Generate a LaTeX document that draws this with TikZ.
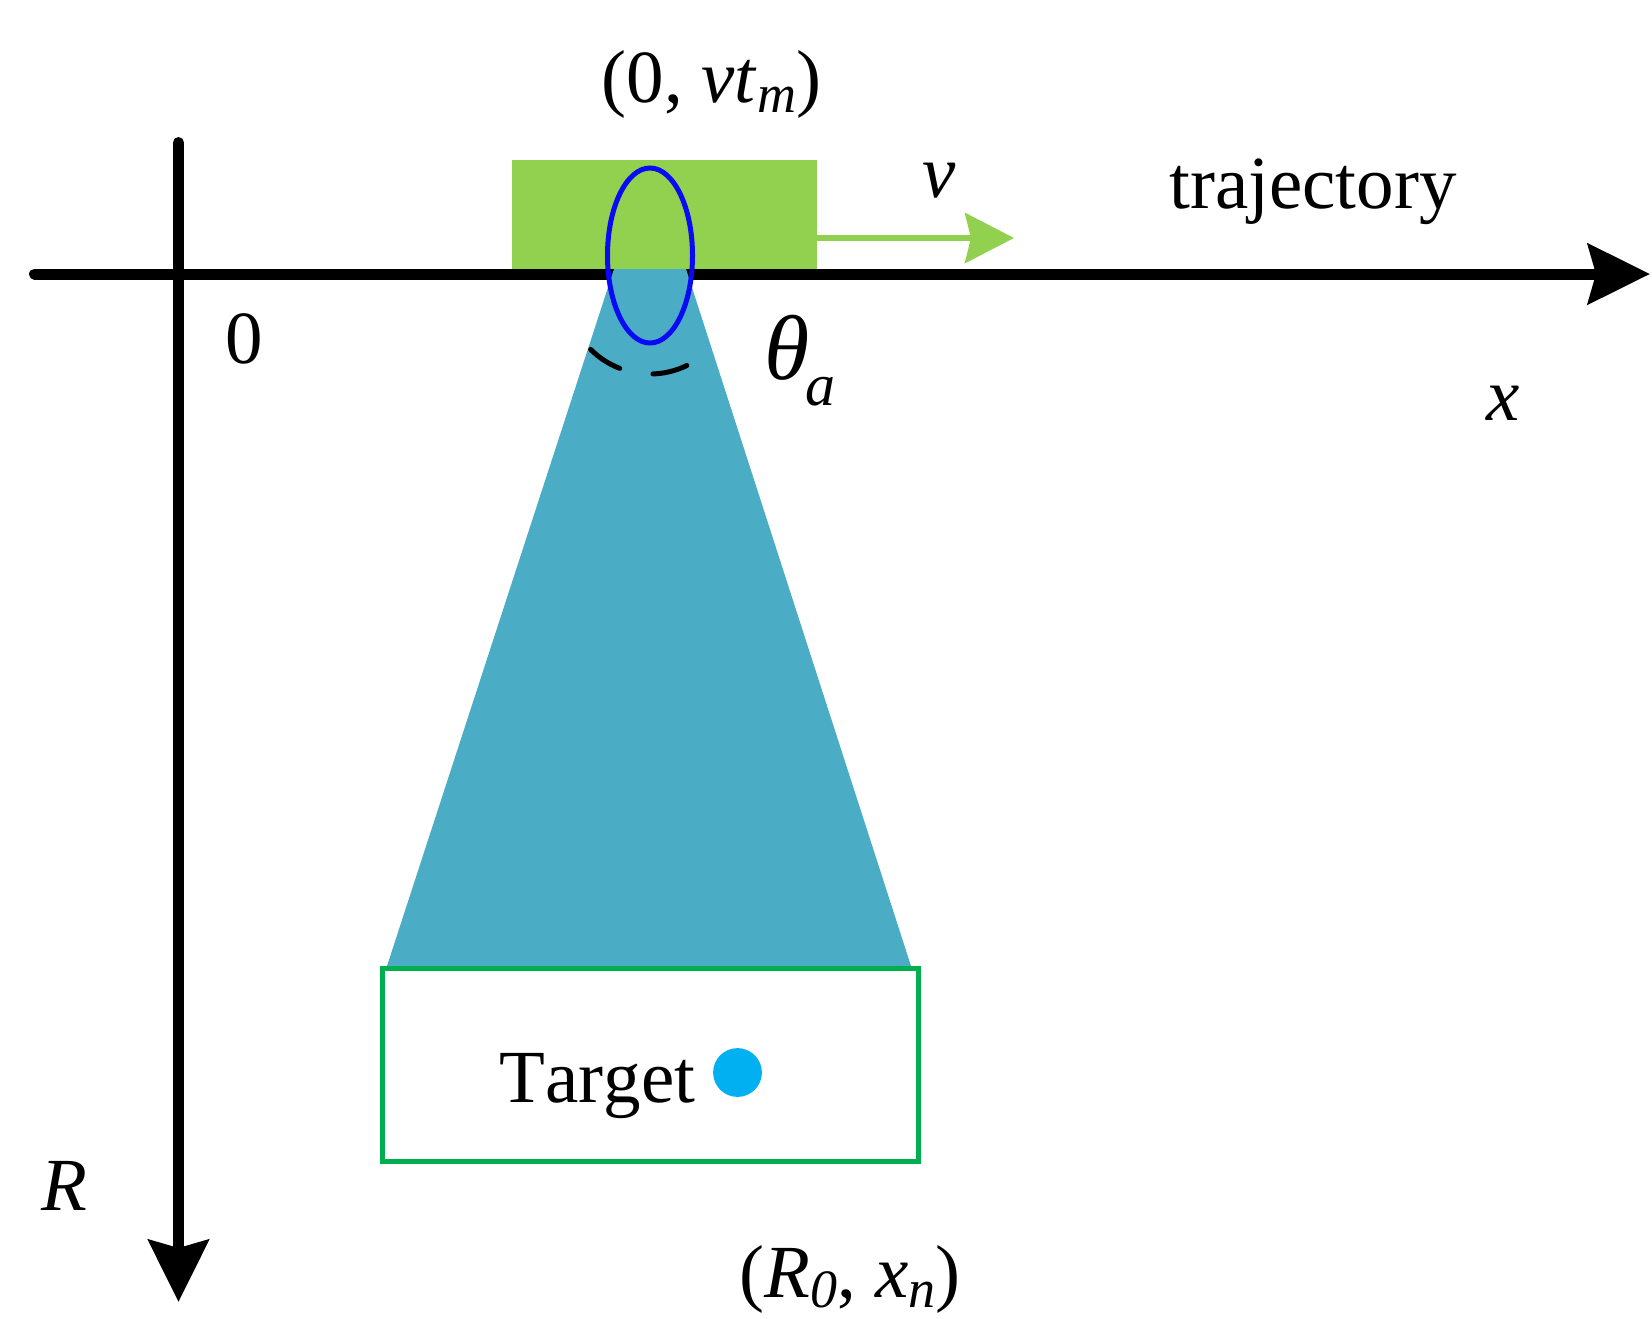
\documentclass[tikz,border=0pt]{standalone}
\usepackage{fontspec}
\setmainfont[Kerning=Off]{Liberation Serif}
\usetikzlibrary{arrows.meta}
\definecolor{conecol}{HTML}{4BACC6}
\definecolor{carcol}{HTML}{92D050}
\definecolor{boxcol}{HTML}{00B050}
\definecolor{dotcol}{HTML}{00B0F0}
\definecolor{ellcol}{HTML}{0A0AF5}
\newcommand{\mysub}[1]{\raisebox{-5pt}{\fontsize{27}{27}\selectfont\itshape #1}}
\begin{document}
\begin{tikzpicture}[x=0.5pt,y=-0.5pt,
  lbl/.style={inner sep=0pt, font=\fontsize{37.5}{40}\selectfont},
  axisline/.style={line width=5.5pt, line cap=round},
  bigtip/.style={-{Stealth[length=31pt,width=30pt,inset=4pt]}},
  velarrow/.style={line width=2.85pt, carcol, -{Stealth[length=24.5pt,width=25pt,inset=3pt]}}]
\useasboundingbox (0,0) rectangle (1652,1318);
\fill[white] (0,0) rectangle (1652,1318);

% axes
\coordinate (xstart) at (34.5,274);
\coordinate (xend) at (1650,274);
\coordinate (rstart) at (178.5,142.5);
\coordinate (rend) at (178.5,1302);
\draw[axisline,bigtip] (xstart) -- (xend);
\draw[axisline,bigtip] (rstart) -- (rend);

% platform
\fill[carcol] (512,160) rectangle (817,269);
\coordinate (vstart) at (817,238);
\coordinate (vend) at (1014,238);
\draw[velarrow] (vstart) -- (vend);

% beam
\fill[conecol] (614,269) -- (686,269) -- (911,966) -- (387,966) -- cycle;

% target area
\node[draw=boxcol, line width=2.25pt, fill=white, minimum width=268pt, minimum height=96.5pt, inner sep=0pt, anchor=north west] (tbox) at (380,966) {};
\fill[dotcol] (737.5,1072.5) circle[radius=12.2pt];

% antenna ellipse
\draw[ellcol, line width=2.5pt] (650,255.5) ellipse[x radius=21.25pt, y radius=43.75pt];

% beam angle arcs
\draw[line width=2.5pt, line cap=round] (650,290) ++(-135:42pt) arc[start angle=-135, end angle=-111, radius=42pt];
\draw[line width=2.5pt, line cap=round] (650,290) ++(-88:42pt) arc[start angle=-88, end angle=-64, radius=42pt];

% labels
\node[lbl, anchor=base] (pos) at (711.5,102) {(0, \textit{vt}\mysub{m})};
\node[lbl, anchor=base] (vlab) at (939,197) {\textit{v}};
\node[lbl, anchor=base west] (traj) at (1169,208) {trajectory};
\node[lbl, anchor=base] (zero) at (244,363) {0};
\node[lbl, anchor=base] (theta) at (787,379) {\fontsize{46}{46}\selectfont\textit{θ}};
\node[lbl, anchor=base west] (asub) at (805,405) {\fontsize{30}{30}\selectfont\textit{a}};
\node[lbl, anchor=base] (xlab) at (1503,420) {\textit{x}};
\node[lbl, anchor=base] (rlab) at (64,1210) {\textit{R}};
\node[lbl, anchor=base west] (tlab) at (499,1102) {Target};
\node[lbl, anchor=base] (tpos) at (850,1297) {(\textit{R}\mysub{0}, \textit{x}\mysub{n})};
\end{tikzpicture}
\end{document}
